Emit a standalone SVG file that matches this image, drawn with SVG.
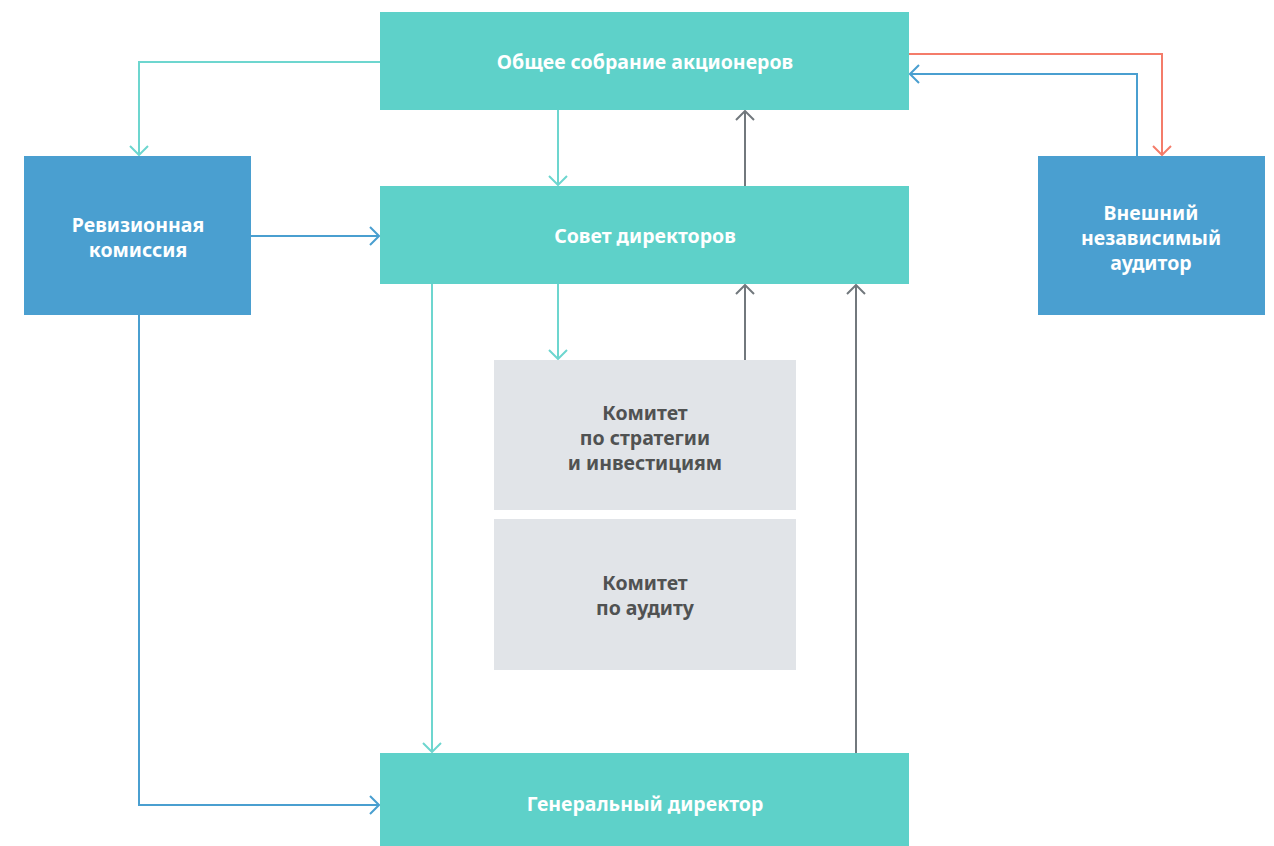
<svg xmlns="http://www.w3.org/2000/svg" width="1274" height="846" viewBox="0 0 1274 846">
<style>
.teal{fill:#5ED1C9}
.blue{fill:#4A9FD0}
.gray{fill:#E1E4E8}
.t{font-family:"Noto Sans","Open Sans","Liberation Sans",sans-serif;font-weight:bold;font-size:19.5px;text-anchor:middle;fill:#FFFFFF}
.d{fill:#505252}
.c{fill:none;stroke-width:2}
.ct{stroke:#6DD6CF}
.cb{stroke:#4A9FD0}
.cr{stroke:#F47C6A}
.cg{stroke:#72787D}
</style>
<defs>
<marker id="aT" viewBox="0 0 12 20" refX="11" refY="10" markerWidth="12" markerHeight="20" markerUnits="userSpaceOnUse" orient="auto"><path d="M2,1 L11,10 L2,19" fill="none" stroke="#6DD6CF" stroke-width="2"/></marker>
<marker id="aB" viewBox="0 0 12 20" refX="11" refY="10" markerWidth="12" markerHeight="20" markerUnits="userSpaceOnUse" orient="auto"><path d="M2,1 L11,10 L2,19" fill="none" stroke="#4A9FD0" stroke-width="2"/></marker>
<marker id="aR" viewBox="0 0 12 20" refX="11" refY="10" markerWidth="12" markerHeight="20" markerUnits="userSpaceOnUse" orient="auto"><path d="M2,1 L11,10 L2,19" fill="none" stroke="#F47C6A" stroke-width="2"/></marker>
<marker id="aG" viewBox="0 0 12 20" refX="11" refY="10" markerWidth="12" markerHeight="20" markerUnits="userSpaceOnUse" orient="auto"><path d="M2,1 L11,10 L2,19" fill="none" stroke="#72787D" stroke-width="2"/></marker>
</defs>
<rect width="1274" height="846" fill="#FFFFFF"/>
<g id="connectors">
<path class="c ct" d="M380,62 H139 V155" marker-end="url(#aT)"/>
<path class="c ct" d="M558,110 V185" marker-end="url(#aT)"/>
<path class="c cg" d="M745,186 V111" marker-end="url(#aG)"/>
<path class="c cr" d="M909,54 H1162 V155" marker-end="url(#aR)"/>
<path class="c cb" d="M1137,156 V74 H910" marker-end="url(#aB)"/>
<path class="c cb" d="M251,236 H379" marker-end="url(#aB)"/>
<path class="c ct" d="M558,284 V359" marker-end="url(#aT)"/>
<path class="c cg" d="M745,360 V285" marker-end="url(#aG)"/>
<path class="c ct" d="M432,284 V752" marker-end="url(#aT)"/>
<path class="c cg" d="M856,753 V285" marker-end="url(#aG)"/>
<path class="c cb" d="M139,314 V805 H379" marker-end="url(#aB)"/>
</g>
<g id="obshchee">
<rect class="teal" x="380" y="12" width="529" height="98"/>
<text class="t" x="645" y="69">Общее собрание акционеров</text>
</g>
<g id="sovet">
<rect class="teal" x="380" y="186" width="529" height="98"/>
<text class="t" x="645" y="243">Совет директоров</text>
</g>
<g id="revizion">
<rect class="blue" x="24" y="156" width="227" height="159"/>
<text class="t" x="138" y="232">Ревизионная</text>
<text class="t" x="138" y="257">комиссия</text>
</g>
<g id="auditor">
<rect class="blue" x="1038" y="156" width="227" height="159"/>
<text class="t" x="1151" y="220">Внешний</text>
<text class="t" x="1151" y="245">независимый</text>
<text class="t" x="1151" y="270">аудитор</text>
</g>
<g id="komitet-strategy">
<rect class="gray" x="494" y="360" width="302" height="150"/>
<text class="t d" x="645" y="420">Комитет</text>
<text class="t d" x="645" y="445">по стратегии</text>
<text class="t d" x="645" y="470">и инвестициям</text>
</g>
<g id="komitet-audit">
<rect class="gray" x="494" y="519" width="302" height="151"/>
<text class="t d" x="645" y="590">Комитет</text>
<text class="t d" x="645" y="615">по аудиту</text>
</g>
<g id="general">
<rect class="teal" x="380" y="753" width="529" height="93"/>
<text class="t" x="645" y="811">Генеральный директор</text>
</g>
</svg>
